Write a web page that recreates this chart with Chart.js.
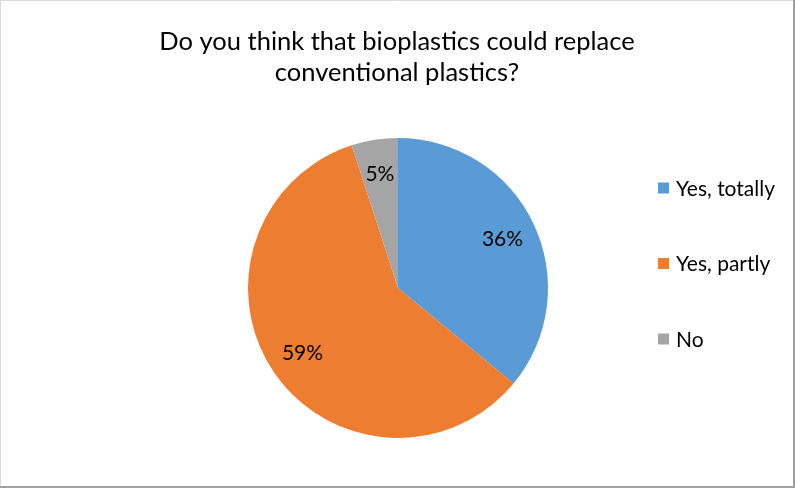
<!DOCTYPE html>
<html>
<head>
<meta charset="utf-8">
<script src="https://cdn.jsdelivr.net/npm/chart.js@4/dist/chart.umd.min.js"></script>
<style>
  html, body { margin: 0; padding: 0; background: #fff; }
  #wrap { width: 795px; height: 488px; position: relative; }
  canvas { display: block; }
</style>
</head>
<body>
<div id="wrap"><canvas id="c" width="795" height="488"></canvas></div>
<script>
const titleLines = ["Do you think that bioplastics could replace", "conventional plastics?"];
const categories = ["Yes, totally", "Yes, partly", "No"];
const values = [36, 59, 5];
const colors = ["#5B9BD5", "#ED7D31", "#A5A5A5"];

const FONT = "Lato, 'Open Sans', sans-serif";

const titlePlugin = {
  id: 'titlePlugin',
  afterDraw(chart) {
    const ctx = chart.ctx;
    ctx.save();
    ctx.font = "25.5px " + FONT;
    ctx.fillStyle = "#000";
    ctx.textAlign = "center";
    ctx.textBaseline = "alphabetic";
    titleLines.forEach((t, i) => ctx.fillText(t, 397, 50 + i * 31));
    ctx.restore();
  }
};

const dataLabels = {
  id: 'dataLabels',
  afterDatasetsDraw(chart) {
    const ctx = chart.ctx;
    const meta = chart.getDatasetMeta(0);
    const total = values.reduce((a, b) => a + b, 0);
    ctx.save();
    ctx.font = "21px " + FONT;
    ctx.fillStyle = "#000";
    ctx.textAlign = "center";
    ctx.textBaseline = "middle";
    meta.data.forEach((arc, i) => {
      const p = arc.getProps(['x', 'y', 'startAngle', 'endAngle', 'outerRadius'], true);
      const mid = (p.startAngle + p.endAngle) / 2;
      const r = p.outerRadius * 0.77;
      const pct = Math.round(values[i] / total * 100) + "%";
      ctx.fillText(pct, p.x + Math.cos(mid) * r, p.y + Math.sin(mid) * r);
    });
    ctx.restore();
  }
};

const customLegend = {
  id: 'customLegend',
  afterDraw(chart) {
    const ctx = chart.ctx;
    const ds = chart.data.datasets[0];
    ctx.save();
    ctx.font = "21px " + FONT;
    ctx.textBaseline = "middle";
    ctx.textAlign = "left";
    chart.data.labels.forEach((lab, i) => {
      const cy = 188 + i * 75.5;
      ctx.fillStyle = ds.backgroundColor[i];
      ctx.fillRect(658, cy - 5.5, 11, 11);
      ctx.fillStyle = "#000";
      ctx.fillText(lab, 676, cy + 1);
    });
    ctx.restore();
  }
};

const frame = {
  id: 'frame',
  beforeDraw(chart) {
    const ctx = chart.ctx;
    ctx.save();
    ctx.fillStyle = "#fff";
    ctx.fillRect(0, 0, chart.width, chart.height);
    ctx.strokeStyle = "#d9d9d9";
    ctx.lineWidth = 1;
    ctx.beginPath();
    ctx.moveTo(0.5, 487.5); ctx.lineTo(0.5, 0.5); ctx.lineTo(794.5, 0.5);
    ctx.stroke();
    ctx.strokeStyle = "#a0a0a0";
    ctx.lineWidth = 2;
    ctx.beginPath();
    ctx.moveTo(794, 0); ctx.lineTo(794, 487); ctx.lineTo(0, 487);
    ctx.stroke();
    ctx.restore();
  }
};

new Chart(document.getElementById('c'), {
  type: 'pie',
  data: {
    labels: categories,
    datasets: [{
      data: values,
      backgroundColor: colors,
      borderWidth: 0
    }]
  },
  options: {
    responsive: false,
    animation: false,
    layout: { padding: { top: 138, bottom: 50, left: 248, right: 247 } },
    plugins: {
      legend: { display: false },
      tooltip: { enabled: false },
      title: { display: false }
    }
  },
  plugins: [frame, dataLabels, customLegend, titlePlugin]
});
</script>
</body>
</html>
